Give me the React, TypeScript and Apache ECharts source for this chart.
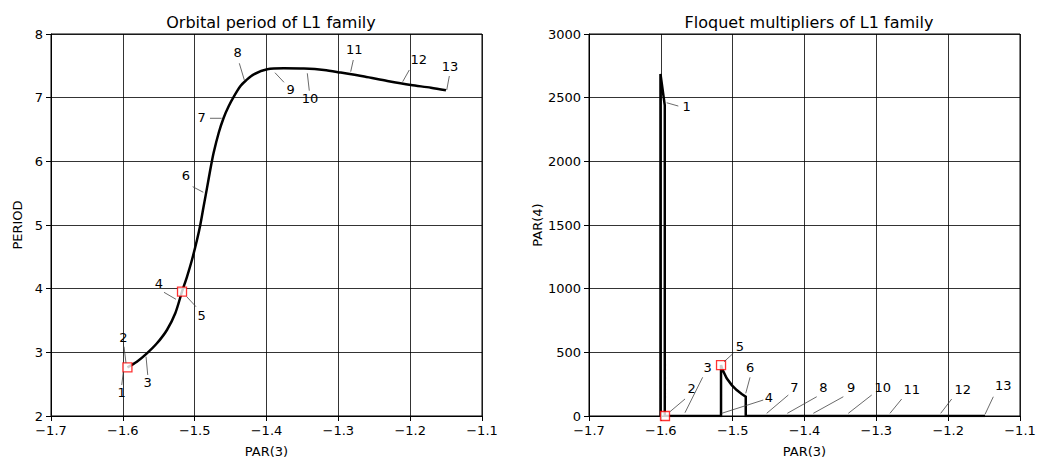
import React, { useEffect, useRef } from "react";
import * as echarts from "echarts";

// ---------- data ----------
const xTicks = [-1.7, -1.6, -1.5, -1.4, -1.3, -1.2, -1.1];

// Orbital period of L1 family (PAR(3) vs PERIOD)
const periodX = [
  -1.5936, -1.5805, -1.5665, -1.5525, -1.5386, -1.527, -1.5176, -1.5106, -1.5037,
  -1.4967, -1.4921, -1.4875, -1.4828, -1.4782, -1.4736, -1.4665, -1.4596, -1.4525,
  -1.4455, -1.4362, -1.4286, -1.4176, -1.3989, -1.3758, -1.3478, -1.32, -1.2967,
  -1.2638, -1.2318, -1.199, -1.1711, -1.1502,
];
const periodY = [
  2.764, 2.852, 2.984, 3.142, 3.351, 3.614, 3.954, 4.191, 4.454, 4.769, 5.005,
  5.293, 5.583, 5.871, 6.134, 6.449, 6.685, 6.868, 7.017, 7.183, 7.27, 7.367,
  7.446, 7.461, 7.457, 7.435, 7.394, 7.331, 7.261, 7.198, 7.157, 7.115,
];
const periodSpecialX = [-1.5936, -1.5176];
const periodSpecialY = [2.764, 3.954];

// Floquet multipliers of L1 family (PAR(3) vs PAR(4))
const floquetX = [
  -1.6005, -1.6005, -1.5945, -1.5945, -1.5162, -1.5162, -1.5139, -1.5083, -1.5013,
  -1.4944, -1.4874, -1.4818, -1.4818, -1.1487,
];
const floquetY = [0, 2686, 2440, 0, 0, 400, 361, 296, 243, 204, 173, 152, 0, 0];
const floquetSpecialX = [-1.5942, -1.5162];
const floquetSpecialY = [0, 400];

// point labels
const pointLabels = ["1", "2", "3", "4", "5", "6", "7", "8", "9", "10", "11", "12", "13"];
const periodLabelX = [
  -1.5993, -1.5956, -1.5677, -1.526, -1.5111, -1.488, -1.4624, -1.4309, -1.3882,
  -1.3432, -1.2828, -1.2104, -1.1491,
];
const periodLabelY = [
  2.696, 2.833, 2.932, 3.833, 3.874, 5.514, 6.676, 7.278, 7.392, 7.383, 7.408,
  7.251, 7.12,
];
const floquetLabelX = [
  -1.5918, -1.5872, -1.5664, -1.5153, -1.5121, -1.4818, -1.4526, -1.4239, -1.3877,
  -1.339, -1.281, -1.2104, -1.1487,
];
const floquetLabelY = [2460, 34, 26, 21, 426, 178, 21, 21, 21, 21, 21, 21, 13];

// annotation leader / text offsets in pixels: [lineDx, lineDy, textDx, textDy]
const periodLabelOffsets = [
  [-1.6, 13.3, -1.6, 21.3],
  [-2, -16.3, -2.7, -25.7],
  [1.7, 18.3, 1.7, 26],
  [-12, -7, -17, -15.3],
  [9.3, 10, 15, 19],
  [-10.6, -5.6, -17.3, -16.3],
  [-11.7, 0, -20, -1],
  [-5, -16.7, -6.6, -27.3],
  [9, 9.6, 15.7, 16.6],
  [2, 17.4, 2.7, 25.7],
  [2.6, -11.7, 3.6, -21.7],
  [6.6, -11.7, 16, -21.7],
  [2.6, -14, 3.3, -23.3],
];
const floquetLabelOffsets = [
  [11.6, 3.3, 20, 4],
  [15, -12.7, 21.7, -22.7],
  [17.7, -35.4, 22.7, -45.4],
  [41.6, -13.3, 47.3, -16],
  [9.3, -8.4, 16, -15],
  [4.3, -16, 4.3, -26],
  [21.6, -18.3, 27.6, -26],
  [29.4, -16.6, 36, -26],
  [30, -16.6, 37.7, -26],
  [23.4, -18.3, 34.4, -26],
  [11.7, -14.3, 21.7, -24.3],
  [11, -14.3, 22, -24.3],
  [8.3, -17.6, 18.3, -28.6],
];

// ---------- helpers ----------
const FONT = "DejaVu Sans";
const zip = (a: number[], b: number[]) => a.map((v, i) => [v, b[i]]);
const fmtX = (v: number) => v.toFixed(1).replace("-", "\u2212");
const fmtY = (v: number) => String(Math.round(v));

function labelSeries(
  xs: number[],
  ys: number[],
  offsets: number[][],
  axisIndex: number
) {
  return {
    type: "custom",
    xAxisIndex: axisIndex,
    yAxisIndex: axisIndex,
    clip: false,
    z: 5,
    data: xs.map((x, i) => [x, ys[i], i]),
    renderItem: (_params: any, api: any) => {
      const i = api.value(2);
      const p = api.coord([api.value(0), api.value(1)]);
      const o = offsets[i];
      return {
        type: "group",
        children: [
          {
            type: "line",
            shape: { x1: p[0], y1: p[1], x2: p[0] + o[0], y2: p[1] + o[1] },
            style: { stroke: "#444", lineWidth: 0.8 },
          },
          {
            type: "text",
            x: p[0] + o[2],
            y: p[1] + o[3],
            style: {
              text: pointLabels[i],
              fill: "#000",
              font: `13px "${FONT}"`,
              align: "center",
              verticalAlign: "middle",
              textAlign: "center",
              textVerticalAlign: "middle",
            },
          },
        ],
      };
    },
  };
}

function xAxisCfg(gridIndex: number) {
  return {
    type: "value",
    gridIndex,
    min: xTicks[0],
    max: xTicks[xTicks.length - 1],
    interval: 0.1,
    name: "PAR(3)",
    nameLocation: "middle",
    nameGap: 29,
    nameTextStyle: { color: "#000", fontSize: 13, fontFamily: FONT },
    axisLine: { show: true, onZero: false, lineStyle: { color: "#000", width: 1 } },
    axisTick: { show: true, inside: false, length: 5, lineStyle: { color: "#000" } },
    axisLabel: { color: "#000", fontSize: 13, fontFamily: FONT, margin: 8, formatter: fmtX },
    splitLine: { show: true, lineStyle: { color: "#000", width: 0.8 } },
  };
}

function yAxisCfg(gridIndex: number, min: number, max: number, interval: number, name: string, gap: number) {
  return {
    type: "value",
    gridIndex,
    min,
    max,
    interval,
    name,
    nameLocation: "middle",
    nameGap: gap,
    nameTextStyle: { color: "#000", fontSize: 13, fontFamily: FONT },
    axisLine: { show: true, onZero: false, lineStyle: { color: "#000", width: 1 } },
    axisTick: { show: true, inside: false, length: 5, lineStyle: { color: "#000" } },
    axisLabel: { color: "#000", fontSize: 13, fontFamily: FONT, margin: 8, formatter: fmtY },
    splitLine: { show: true, lineStyle: { color: "#000", width: 0.8 } },
  };
}

const squareStyle = {
  type: "scatter",
  symbol: "rect",
  symbolSize: 9,
  itemStyle: { color: "#fff", borderColor: "#ff0000", borderWidth: 1.3 },
  z: 4,
};

export default function App() {
  const ref = useRef<HTMLDivElement>(null);
  useEffect(() => {
    if (!ref.current) return;
    const chart = echarts.init(ref.current, undefined, { renderer: "svg" });
    chart.setOption({
      animation: false,
      backgroundColor: "#fff",
      textStyle: { fontFamily: FONT },
      title: [
        {
          text: "Orbital period of L1 family",
          left: 266,
          top: 9,
          textAlign: "center",
          textStyle: { color: "#000", fontSize: 16, fontWeight: "normal", fontFamily: FONT },
        },
        {
          text: "Floquet multipliers of L1 family",
          left: 804,
          top: 9,
          textAlign: "center",
          textStyle: { color: "#000", fontSize: 16, fontWeight: "normal", fontFamily: FONT },
        },
      ],
      grid: [
        { left: 51, top: 34, width: 431, height: 382, show: true, borderColor: "#000", borderWidth: 1, backgroundColor: "transparent" },
        { left: 589, top: 34, width: 431, height: 382, show: true, borderColor: "#000", borderWidth: 1, backgroundColor: "transparent" },
      ],
      xAxis: [xAxisCfg(0), xAxisCfg(1)],
      yAxis: [
        yAxisCfg(0, 2, 8, 1, "PERIOD", 27),
        yAxisCfg(1, 0, 3000, 500, "PAR(4)", 25),
      ],
      series: [
        {
          type: "line",
          xAxisIndex: 0,
          yAxisIndex: 0,
          data: zip(periodX, periodY),
          showSymbol: false,
          smooth: 0.3,
          clip: true,
          lineStyle: { color: "#000", width: 2.5 },
          z: 3,
        },
        { ...squareStyle, xAxisIndex: 0, yAxisIndex: 0, data: zip(periodSpecialX, periodSpecialY) },
        labelSeries(periodLabelX, periodLabelY, periodLabelOffsets, 0),
        {
          type: "line",
          xAxisIndex: 1,
          yAxisIndex: 1,
          data: zip(floquetX, floquetY),
          showSymbol: false,
          clip: true,
          lineStyle: { color: "#000", width: 2.5, join: "miter" },
          z: 3,
        },
        { ...squareStyle, xAxisIndex: 1, yAxisIndex: 1, data: zip(floquetSpecialX, floquetSpecialY) },
        labelSeries(floquetLabelX, floquetLabelY, floquetLabelOffsets, 1),
      ],
    });
    return () => chart.dispose();
  }, []);
  return (
    <div
      ref={ref}
      style={{ position: "absolute", left: 0, top: 0, width: 1041, height: 464, background: "#fff" }}
    />
  );
}
